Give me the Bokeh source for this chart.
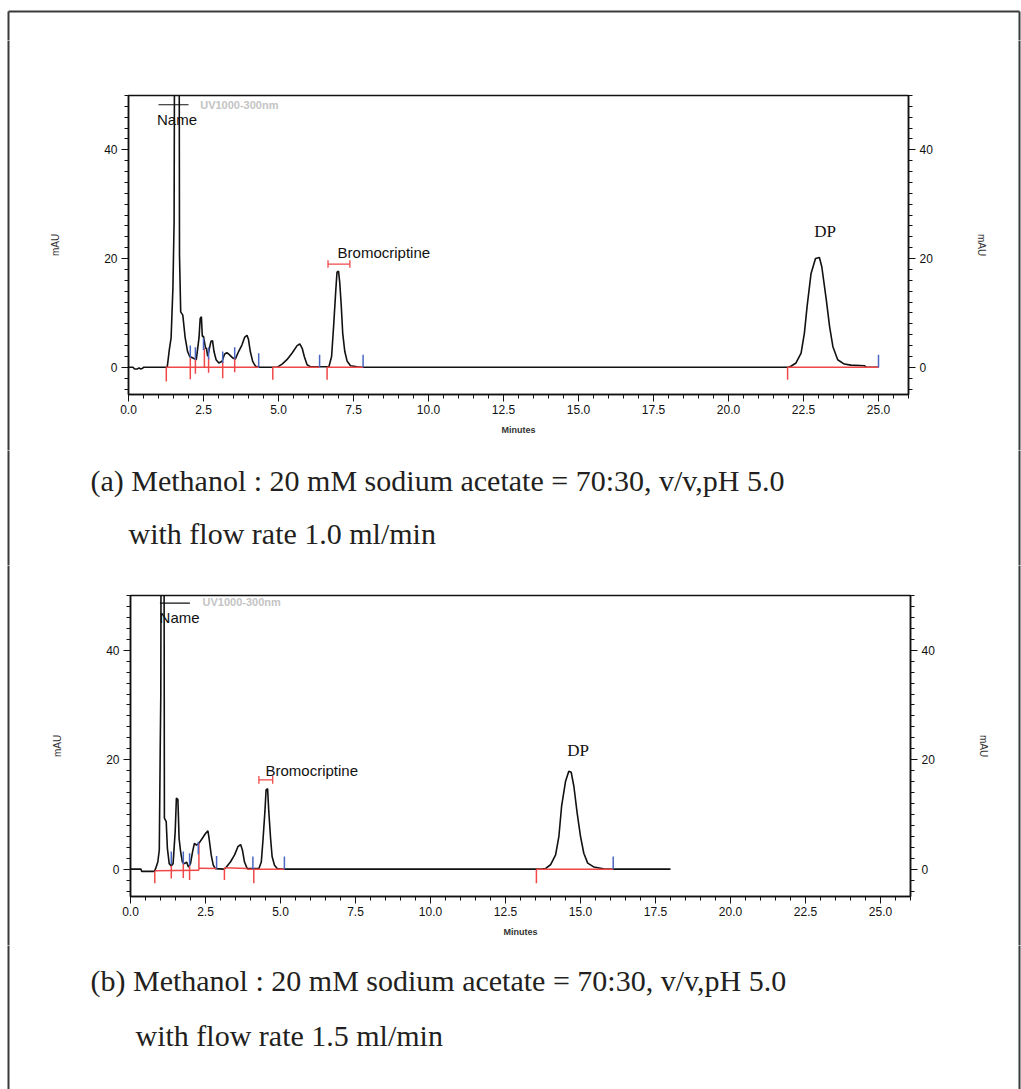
from bokeh.plotting import figure
from bokeh.models import (Range1d, LinearAxis, SingleIntervalTicker, Label,
                          NumeralTickFormatter)
from bokeh.layouts import column, row
from bokeh.embed import file_html
from bokeh.resources import INLINE

# ---------------- run (a): 1.0 ml/min ----------------
a_time = [0.0, 0.15, 0.2, 0.3, 0.35, 0.4, 0.46, 0.5, 1.29, 1.36, 1.42, 1.48, 1.52,
          1.55, 1.68, 1.70, 1.74, 1.81, 1.89, 1.97, 2.04, 2.15, 2.26, 2.35, 2.39,
          2.43, 2.46, 2.50, 2.57, 2.60, 2.64, 2.71, 2.75, 2.80, 2.85, 2.92, 3.01,
          3.12, 3.20, 3.28, 3.37, 3.48, 3.56, 3.67, 3.78, 3.87, 3.95, 4.00, 4.06,
          4.14, 4.23, 4.39, 4.95, 5.12, 5.28, 5.45, 5.62, 5.71, 5.79, 5.86, 5.95,
          6.06, 6.68, 6.77, 6.84, 6.91, 6.95, 7.00, 7.04, 7.09, 7.14, 7.21, 7.29,
          7.40, 7.62, 7.80, 22.00, 22.08, 22.25, 22.42, 22.53, 22.62, 22.75, 22.90,
          23.03, 23.11, 23.26, 23.37, 23.48, 23.64, 23.86, 24.08, 24.53, 24.60, 25.0]
a_mau = [0.0, 0.0, -0.3, -0.3, -0.1, -0.3, -0.2, 0.0, 0.0, 3.2, 5.4, 14.5, 26.7,
         95.0, 95.0, 20.6, 10.2, 9.6, 5.4, 2.9, 2.0, 1.7, 1.4, 5.4, 9.0,
         9.3, 5.7, 5.7, 3.5, 3.5, 2.0, 3.8, 4.8, 4.9, 2.9, 1.4, 0.8,
         1.1, 2.4, 2.7, 2.3, 1.7, 1.5, 2.9, 4.1, 5.5, 5.9, 5.1, 2.9,
         1.1, 0.2, 0.0, 0.0, 0.6, 1.4, 2.6, 4.0, 4.3, 3.5, 2.0, 0.5,
         0.1, 0.1, 2.0, 7.8, 14.2, 17.5, 17.7, 15.7, 11.5, 6.3, 2.9, 1.1,
         0.3, 0.1, 0.0, 0.0, 0.2, 0.8, 2.6, 6.3, 11.2, 17.2, 20.0,
         20.2, 18.5, 12.4, 7.5, 3.8, 1.4, 0.6, 0.4, 0.3, 0.0, 0.0]

# integration baselines (start time, level, end time, level)
a_base_t0 = [1.26, 4.81, 6.62, 21.97]
a_base_y0 = [0.0, 0.0, 0.0, 0.0]
a_base_t1 = [4.34, 6.37, 7.82, 25.0]
a_base_y1 = [0.0, 0.0, 0.0, 0.0]
# peak-start marks (red) and peak-end marks (blue)
a_start_t = [1.26, 2.06, 2.23, 2.53, 2.67, 3.14, 3.54, 4.81, 6.62, 21.97]
a_start_hi = [0.0, 1.7, 1.7, 3.5, 1.7, 1.1, 1.7, 0.0, 0.0, 0.0]
a_start_lo = [-2.6, -2.2, -1.2, 0.0, -1.0, -2.0, -0.9, -2.3, -2.3, -2.3]
a_end_t = [2.06, 2.23, 2.50, 2.67, 3.14, 3.54, 4.34, 6.37, 7.82, 25.0]
a_end_lo = [1.7, 1.4, 3.2, 1.5, 0.8, 1.5, 0.0, 0.0, 0.0, 0.0]
a_end_hi = [4.0, 3.7, 5.4, 3.7, 2.9, 3.7, 2.6, 2.3, 2.3, 2.3]
# named peaks: label anchor (time, mAU) and bracket (t0, t1, level)
a_brom_label = (6.97, 21.1)
a_brom_bracket = (6.65, 7.38, 19.0)
a_dp_label = (23.22, 25.0)
a_name_label = (0.95, 45.5)
a_name_bar = (1.0, 2.0, 48.3)
a_detector_label = (2.39, 48.3)

# ---------------- run (b): 1.5 ml/min ----------------
b_time = [0.0, 0.35, 0.37, 0.80, 0.83, 0.91, 0.96, 0.99, 1.01, 1.03, 1.11, 1.13,
          1.19, 1.23, 1.29, 1.36, 1.42, 1.49, 1.53, 1.58, 1.62, 1.67, 1.73, 1.80,
          1.87, 1.93, 2.00, 2.07, 2.13, 2.20, 2.28, 2.39, 2.50, 2.58, 2.62, 2.69,
          2.76, 2.83, 3.11, 3.17, 3.33, 3.47, 3.58, 3.67, 3.73, 3.80, 3.89, 4.28,
          4.36, 4.42, 4.48, 4.52, 4.57, 4.61, 4.67, 4.72, 4.80, 4.89, 5.00, 13.70,
          13.83, 14.00, 14.17, 14.28, 14.37, 14.50, 14.61, 14.69, 14.78, 14.89,
          15.00, 15.11, 15.24, 15.44, 15.72, 15.80, 18.0]
b_mau = [0.0, 0.0, -0.4, -0.4, 0.0, 1.3, 3.5, 21.5, 31.9, 95.0, 95.0, 9.3,
         8.7, 3.8, 1.0, 0.6, 1.0, 6.9, 13.0, 12.7, 5.6, 3.2, 1.3, 1.0,
         1.3, 0.4, 1.0, 3.2, 4.7, 4.4, 4.7, 5.6, 6.5, 7.0, 5.6, 2.6,
         0.7, 0.1, 0.0, 0.2, 1.3, 2.6, 4.1, 4.5, 3.5, 1.3, 0.1, 0.1,
         1.3, 5.6, 10.5, 14.5, 14.7, 10.5, 5.6, 2.3, 0.7, 0.1, 0.0, 0.0,
         0.1, 0.8, 2.6, 6.0, 11.5, 16.0, 17.9, 17.7, 15.1, 10.2,
         6.0, 2.9, 1.1, 0.4, 0.1, 0.0, 0.0]

b_base_t0 = [0.81, 2.28, 3.13, 3.89, 4.11, 13.53]
b_base_y0 = [-0.3, 0.15, 0.25, 0.0, 0.0, 0.0]
b_base_t1 = [2.28, 2.87, 3.89, 4.08, 5.13, 16.09]
b_base_y1 = [-0.2, 0.1, 0.1, 0.0, 0.0, 0.0]
b_start_t = [0.81, 1.36, 1.76, 1.97, 2.28, 3.13, 4.11, 13.53]
b_start_hi = [-0.4, 0.6, 1.3, 0.6, 4.7, 0.2, 0.0, 0.0]
b_start_lo = [-2.6, -1.7, -1.6, -2.0, -0.2, -2.0, -2.6, -2.6]
b_end_t = [1.36, 1.76, 1.97, 2.26, 2.87, 4.08, 5.13, 16.09]
b_end_lo = [0.9, 0.9, 0.6, 2.7, 0.1, 0.0, 0.0, 0.0]
b_end_hi = [3.2, 3.2, 2.9, 5.0, 2.4, 2.3, 2.3, 2.3]
b_brom_label = (4.50, 18.0)
b_brom_bracket = (4.28, 4.74, 16.3)
b_dp_label = (14.92, 21.6)
b_name_label = (0.97, 45.9)
b_name_bar = (0.98, 1.98, 48.6)
b_detector_label = (2.40, 48.8)

x_ticks_interval = 2.5
y_ticks_interval = 20
x_span = (0, 26)
y_span = (-5, 50)

captions_a = ["(a) Methanol : 20 mM sodium acetate = 70:30, v/v,pH 5.0",
              "with flow rate 1.0 ml/min"]
captions_b = ["(b) Methanol : 20 mM sodium acetate = 70:30, v/v,pH 5.0",
              "with flow rate 1.5 ml/min"]

W = 1021
LEFT_W = 40          # strip carrying the left page rule
RIGHT_W = 21         # strip carrying the right page rule
CHART_W = W - LEFT_W - RIGHT_W
RED = "#f04848"
BLUE = "#4a66c4"
INK = "#111111"
RULE = "#3a3a3a"
SANS = "Liberation Sans"
SERIF = "Liberation Serif"


def blank(w, h):
    """A bare canvas addressed in pixels (y grows downward)."""
    p = figure(width=w, height=h, x_range=Range1d(0, w), y_range=Range1d(h, 0),
               output_backend="svg", toolbar_location=None,
               x_axis_location=None, y_axis_location=None,
               min_border_left=0, min_border_right=0, min_border_top=0,
               min_border_bottom=0, frame_align=False)
    p.outline_line_color = None
    p.grid.grid_line_color = None
    p.background_fill_color = "white"
    p.border_fill_color = "white"
    return p


def rule(p, x0, y0, x1, y1):
    p.segment([x0], [y0], [x1], [y1], line_color=RULE, line_width=2)


def side_strips(h):
    l = blank(LEFT_W, h)
    rule(l, 8, -5, 8, h + 5)
    r = blank(RIGHT_W, h)
    rule(r, RIGHT_W - 2, -5, RIGHT_W - 2, h + 5)
    return l, r


def chart(geom, t, y, base, starts, ends, brom_label, brom_bracket, dp_label,
          name_label, name_bar, det_label):
    left, right, top, bottom, height = geom
    p = figure(width=CHART_W, height=height, x_range=Range1d(*x_span),
               y_range=Range1d(*y_span), output_backend="svg",
               toolbar_location=None, x_axis_location=None, y_axis_location=None,
               min_border_left=left, min_border_right=CHART_W - right,
               min_border_top=top, min_border_bottom=height - bottom,
               frame_align=False)
    p.outline_line_color = INK
    p.outline_line_width = 1.5
    p.grid.grid_line_color = None
    p.background_fill_color = "white"
    p.border_fill_color = "white"

    xa = LinearAxis(ticker=SingleIntervalTicker(interval=x_ticks_interval, num_minor_ticks=5),
                    formatter=NumeralTickFormatter(format="0.0"), axis_label="Minutes")
    ya = LinearAxis(ticker=SingleIntervalTicker(interval=y_ticks_interval, num_minor_ticks=10),
                    axis_label="mAU")
    yb = LinearAxis(ticker=SingleIntervalTicker(interval=y_ticks_interval, num_minor_ticks=10),
                    axis_label="mAU")
    for ax in (xa, ya, yb):
        ax.axis_line_color = INK
        ax.axis_line_width = 1.5
        ax.major_tick_line_color = INK
        ax.minor_tick_line_color = INK
        ax.major_tick_in = 0
        ax.minor_tick_in = 0
        ax.major_tick_out = 7
        ax.minor_tick_out = 4
        ax.major_label_text_font = SANS
        ax.major_label_text_font_size = "12px"
        ax.major_label_text_color = INK
        ax.axis_label_text_font = SANS
        ax.axis_label_text_font_style = "normal"
        ax.axis_label_text_color = "#333333"
    xa.major_label_standoff = 3
    xa.axis_label_text_font_size = "9px"
    xa.axis_label_text_font_style = "bold"
    xa.axis_label_standoff = 8
    ya.major_label_standoff = 4
    yb.major_label_standoff = 4
    ya.axis_label_text_font_size = "10px"
    yb.axis_label_text_font_size = "10px"
    ya.axis_label_standoff = 40
    yb.axis_label_standoff = 40
    p.add_layout(xa, "below")
    p.add_layout(ya, "left")
    p.add_layout(yb, "right")

    # chromatogram trace
    p.line(t, y, line_color=INK, line_width=1.6)

    # integration baselines and peak marks
    t0, y0, t1, y1 = base
    p.segment(t0, y0, t1, y1, line_color=RED, line_width=1.5)
    st, shi, slo = starts
    p.segment(st, shi, st, slo, line_color=RED, line_width=1.5)
    et, elo, ehi = ends
    p.segment(et, elo, et, ehi, line_color=BLUE, line_width=1.5)

    # bracket over the named peak
    b0, b1, bl = brom_bracket
    p.segment([b0, b0, b1], [bl, bl - 0.7, bl - 0.7], [b1, b0, b1], [bl, bl + 0.7, bl + 0.7],
              line_color=RED, line_width=1.3)
    # peak-name marker bar
    n0, n1, nl = name_bar
    p.segment([n0], [nl], [n1], [nl], line_color=INK, line_width=1.2)

    p.add_layout(Label(x=brom_label[0], y=brom_label[1], text="Bromocriptine",
                       text_font=SANS, text_font_size="15px", text_color=INK,
                       text_baseline="middle", text_align="left"))
    p.add_layout(Label(x=dp_label[0], y=dp_label[1], text="DP",
                       text_font=SERIF, text_font_size="17px", text_color=INK,
                       text_baseline="middle", text_align="center"))
    p.add_layout(Label(x=name_label[0], y=name_label[1], text="Name",
                       text_font=SANS, text_font_size="15px", text_color=INK,
                       text_baseline="middle", text_align="left"))
    p.add_layout(Label(x=det_label[0], y=det_label[1], text="UV1000-300nm",
                       text_font=SANS, text_font_size="11px", text_color="#c4c4c4",
                       text_font_style="bold", text_baseline="middle", text_align="left"))
    return p


def caption(h, lines):
    p = blank(W, h)
    rule(p, 8, -5, 8, h + 5)
    rule(p, W - 2, -5, W - 2, h + 5)
    for (x, y), txt in lines:
        p.add_layout(Label(x=x, y=y, text=txt, text_font=SERIF, text_font_size="30px",
                           text_color="#231f20", text_baseline="alphabetic",
                           text_align="left"))
    return p


# page top with its rule
TOP_H = 40
top = blank(W, TOP_H)
rule(top, 8, 11, W - 2, 11)
rule(top, 8, 11, 8, TOP_H + 5)
rule(top, W - 2, 11, W - 2, TOP_H + 5)

# chart (a): frame spans x 128..908, y 95..394 on the page
H1 = 410
c1 = chart((128 - LEFT_W, 908 - LEFT_W, 95 - TOP_H, 394 - TOP_H, H1), a_time, a_mau,
           (a_base_t0, a_base_y0, a_base_t1, a_base_y1),
           (a_start_t, a_start_hi, a_start_lo), (a_end_t, a_end_lo, a_end_hi),
           a_brom_label, a_brom_bracket, a_dp_label, a_name_label, a_name_bar,
           a_detector_label)
l1, r1 = side_strips(H1)

Y_CAP1 = TOP_H + H1            # 450
CAP1_H = 115
cap1 = caption(CAP1_H, [((90, 480 - Y_CAP1), captions_a[0]),
                        ((128, 533 - Y_CAP1), captions_a[1])])

# chart (b): frame spans x 130..910, y 595..896 on the page
Y_C2 = Y_CAP1 + CAP1_H         # 565
H2 = 380
c2 = chart((130 - LEFT_W, 910 - LEFT_W, 595 - Y_C2, 896 - Y_C2, H2), b_time, b_mau,
           (b_base_t0, b_base_y0, b_base_t1, b_base_y1),
           (b_start_t, b_start_hi, b_start_lo), (b_end_t, b_end_lo, b_end_hi),
           b_brom_label, b_brom_bracket, b_dp_label, b_name_label, b_name_bar,
           b_detector_label)
l2, r2 = side_strips(H2)

Y_CAP2 = Y_C2 + H2             # 945
CAP2_H = 1089 - Y_CAP2
cap2 = caption(CAP2_H, [((90, 980 - Y_CAP2), captions_b[0]),
                        ((135, 1035 - Y_CAP2), captions_b[1])])

page = column(top, row(l1, c1, r1), cap1, row(l2, c2, r2), cap2, spacing=0)
open("out.html", "w").write(file_html(page, INLINE))
